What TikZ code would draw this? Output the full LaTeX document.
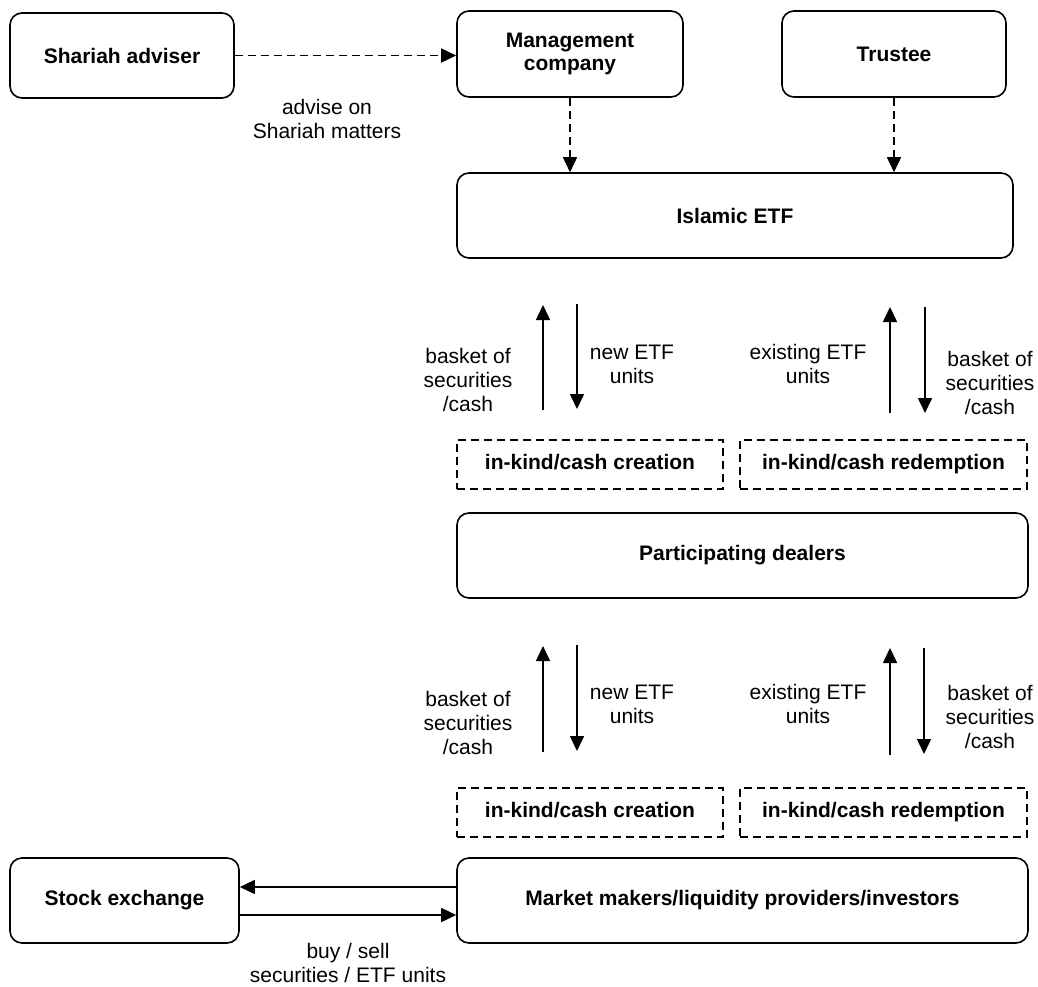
\documentclass[tikz,border=0pt]{standalone}
\usepackage{fontspec}
\setmainfont{Liberation Sans}
\usetikzlibrary{arrows.meta}
\tikzset{
  box/.style={draw, line width=1.6pt, rounded corners=12pt, align=center,
    inner sep=0pt, font=\fontsize{21}{24}\selectfont\bfseries},
  dbox/.style={draw, line width=1.5pt, dash pattern=on 8pt off 5pt, align=center,
    inner sep=0pt, text height=15pt, text depth=5pt,
    font=\fontsize{21}{24}\selectfont\bfseries},
  lbl/.style={align=center, inner sep=0pt, font=\fontsize{21}{24}\selectfont},
  arr/.style={line width=1.6pt, -{Triangle[length=15pt,width=14pt]}},
  darr/.style={arr, dash pattern=on 8pt off 5pt},
}
\begin{document}
\begin{tikzpicture}[x=1pt,y=-1pt]
\useasboundingbox (0,0) rectangle (1038,987);

% boxes
\node[box, minimum width=224pt, minimum height=85pt] (sa) at (122,55.5) {Shariah adviser};
\node[box, minimum width=226pt, minimum height=86pt] (mgmt) at (570,54) {Management\\[-1pt]company};
\node[box, minimum width=224pt, minimum height=86pt] (tr) at (894,54) {Trustee};
\node[box, minimum width=556pt, minimum height=85pt] (etf) at (735,215.5) {Islamic ETF};

\node[dbox, minimum width=266pt, minimum height=49pt] (cr1) at (590,464.5) {in-kind/cash creation};
\node[dbox, minimum width=287pt, minimum height=49pt] (rd1) at (883.5,464.5) {in-kind/cash redemption};
\node[box, minimum width=571pt, minimum height=85pt] (pd) at (742.5,555.5) {Participating dealers};

\node[dbox, minimum width=266pt, minimum height=49pt] (cr2) at (590,812.5) {in-kind/cash creation};
\node[dbox, minimum width=287pt, minimum height=49pt] (rd2) at (883.5,812.5) {in-kind/cash redemption};
\node[box, minimum width=571pt, minimum height=85pt] (mm) at (742.5,900.5) {Market makers/liquidity providers/investors};
\node[box, minimum width=229pt, minimum height=85pt] (se) at (124.5,900.5) {Stock exchange};

% labels
\node[lbl] (adv) at (327,118.5) {advise on\\Shariah matters};
\node[lbl] (b1) at (468,380) {basket of\\securities\\/cash};
\node[lbl] (n1) at (632,364) {new ETF\\units};
\node[lbl] (e1) at (808,364) {existing ETF\\units};
\node[lbl] (r1) at (990,383) {basket of\\securities\\/cash};
\node[lbl] (b2) at (468,723) {basket of\\securities\\/cash};
\node[lbl] (n2) at (632,704) {new ETF\\units};
\node[lbl] (e2) at (808,704) {existing ETF\\units};
\node[lbl] (r2) at (990,717) {basket of\\securities\\/cash};
\node[lbl] (bs) at (348,963) {buy / sell\\securities / ETF units};

% dashed connectors
\draw[darr] (sa.east) -- (sa.east -| mgmt.west);
\draw[darr] (mgmt.south) -- (mgmt.south |- etf.north);
\draw[darr] (tr.south) -- (tr.south |- etf.north);

% level 1 arrows
\coordinate (u1s) at (543,410); \coordinate (u1e) at (543,305);
\coordinate (d1s) at (577,304); \coordinate (d1e) at (577,409);
\coordinate (u2s) at (890,413); \coordinate (u2e) at (890,307);
\coordinate (d2s) at (925,307); \coordinate (d2e) at (925,413);
\draw[arr] (u1s) -- (u1e);
\draw[arr] (d1s) -- (d1e);
\draw[arr] (u2s) -- (u2e);
\draw[arr] (d2s) -- (d2e);

% level 2 arrows
\coordinate (u3s) at (543,752); \coordinate (u3e) at (543,646);
\coordinate (d3s) at (577,645); \coordinate (d3e) at (577,751);
\coordinate (u4s) at (890,755); \coordinate (u4e) at (890,648);
\coordinate (d4s) at (924,648); \coordinate (d4e) at (924,754);
\draw[arr] (u3s) -- (u3e);
\draw[arr] (d3s) -- (d3e);
\draw[arr] (u4s) -- (u4e);
\draw[arr] (d4s) -- (d4e);

% stock exchange arrows
\coordinate (ya) at (0,887);
\coordinate (yb) at (0,915);
\draw[arr] (mm.west |- ya) -- (se.east |- ya);
\draw[arr] (se.east |- yb) -- (mm.west |- yb);
\end{tikzpicture}
\end{document}
